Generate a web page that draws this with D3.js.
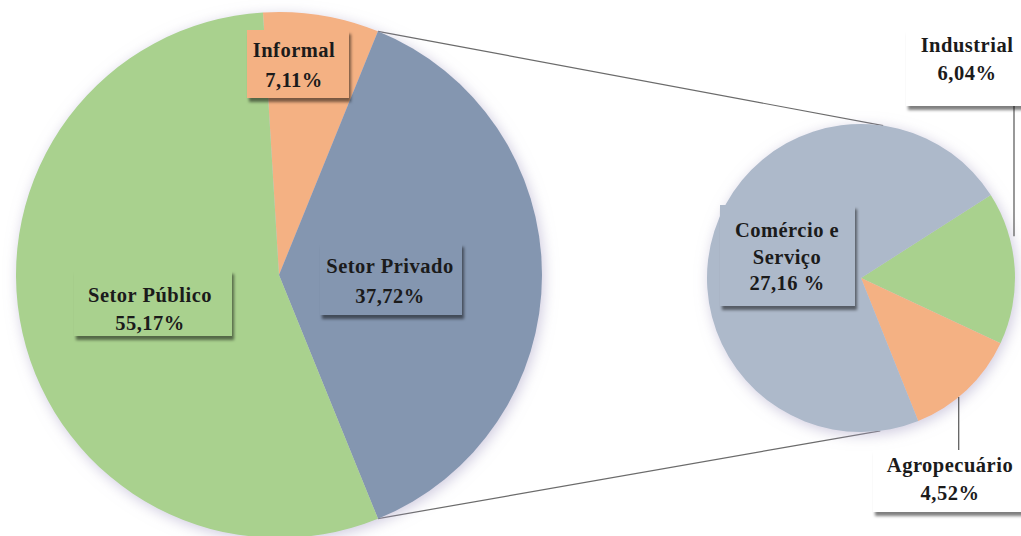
<!DOCTYPE html>
<html>
<head>
<meta charset="utf-8">
<script src="https://cdn.jsdelivr.net/npm/d3@7"></script>
<style>
  body { margin: 0; background: white; }
  svg { display: block; }
  .lbl { font-family: "Liberation Serif", "Times New Roman", "DejaVu Serif", serif; font-weight: bold; font-size: 20.5px; letter-spacing: 0.5px; }
</style>
</head>
<body>
<div id="chart-area"></div>
<script>
// main pie data
const mainLabels = ["Informal", "Setor Privado", "Setor Público"]
const mainValues = [7.11, 37.72, 55.17]
const mainText = ["7,11%", "37,72%", "55,17%"]

// secondary pie (split of Setor Privado)
const subLabels = ["Industrial", "Agropecuário", "Comércio e Serviço"]
const subValues = [6.04, 4.52, 27.16]
const subText = ["6,04%", "4,52%", "27,16 %"]

const width = 1021, height = 536
const deg = Math.PI / 180

const svg = d3.select("#chart-area").append("svg")
    .attr("width", width)
    .attr("height", height)

const defs = svg.append("defs")

// soft glow behind the pies
const glow = defs.append("filter").attr("id", "glow")
    .attr("x", "-20%").attr("y", "-20%").attr("width", "140%").attr("height", "140%")
glow.append("feGaussianBlur").attr("in", "SourceAlpha").attr("stdDeviation", 7).attr("result", "b")
glow.append("feOffset").attr("in", "b").attr("dx", 2).attr("dy", 3).attr("result", "o")
glow.append("feFlood").attr("flood-color", "#a79fc4").attr("flood-opacity", 0.55)
glow.append("feComposite").attr("in2", "o").attr("operator", "in").attr("result", "s")
const gm = glow.append("feMerge")
gm.append("feMergeNode").attr("in", "s")
gm.append("feMergeNode").attr("in", "SourceGraphic")

// label box shadow
const boxShadow = defs.append("filter").attr("id", "boxShadow")
    .attr("x", "-20%").attr("y", "-20%").attr("width", "150%").attr("height", "160%")
boxShadow.append("feDropShadow").attr("dx", 2).attr("dy", 4)
    .attr("stdDeviation", 1.8).attr("flood-color", "#000").attr("flood-opacity", 0.5)

const mainColor = d3.scaleOrdinal().domain(mainLabels).range(["#f4b183", "#8496b0", "#a9d18e"])
const subColor = d3.scaleOrdinal().domain(subLabels).range(["#a9d18e", "#f4b183", "#adb9ca"])

const main = {cx: 279, cy: 275, r: 263}
const sub = {cx: 861, cy: 278, r: 154}

const mainPie = d3.pie().sort(null).value(d => d)
    .startAngle(-3.5 * deg).endAngle(356.5 * deg)
const subPie = d3.pie().sort(null).value(d => d)
    .startAngle(57.4 * deg).endAngle(417.4 * deg)

const mainArcs = mainPie(mainValues)
const subArcs = subPie(subValues)

const polar = (c, r, a) => [c.cx + r * Math.sin(a), c.cy - r * Math.cos(a)]

// connector lines between the pies
const priv = mainArcs[1]
const linesG = svg.append("g")
const conn = [
    [polar(main, main.r, priv.startAngle), polar(sub, sub.r, 8.3 * deg)],
    [polar(main, main.r, priv.endAngle), polar(sub, sub.r, 172.8 * deg)]
]
linesG.selectAll("line").data(conn).join("line")
    .attr("x1", d => d[0][0]).attr("y1", d => d[0][1])
    .attr("x2", d => d[1][0]).attr("y2", d => d[1][1])
    .attr("stroke", "#6b6b6b")
    .attr("stroke-width", 1.2)

const mainArc = d3.arc().innerRadius(0).outerRadius(main.r)
const subArc = d3.arc().innerRadius(0).outerRadius(sub.r)

svg.append("g")
    .attr("transform", `translate(${main.cx}, ${main.cy})`)
    .attr("filter", "url(#glow)")
    .selectAll("path").data(mainArcs).join("path")
    .attr("d", mainArc)
    .attr("fill", (d, i) => mainColor(mainLabels[i]))

svg.append("g")
    .attr("transform", `translate(${sub.cx}, ${sub.cy})`)
    .attr("filter", "url(#glow)")
    .selectAll("path").data(subArcs).join("path")
    .attr("d", subArc)
    .attr("fill", (d, i) => subColor(subLabels[i]))

// leader lines for the small slices
const leaders = svg.append("g")
    .attr("fill", "none")
    .attr("stroke", "#555")
    .attr("stroke-width", 1.2)
const indEdge = polar(sub, sub.r, (subArcs[0].startAngle + subArcs[0].endAngle) / 2 - 12 * deg)
leaders.append("path")
    .attr("d", `M1006,96 H1014 V${indEdge[1]}`)
const agEdge = polar(sub, sub.r, (subArcs[1].startAngle + subArcs[1].endAngle) / 2 + 4 * deg)
leaders.append("path")
    .attr("d", `M${agEdge[0]},${agEdge[1]} V452`)

// label boxes
const labelBoxes = [
    {x: 247, y: 30, w: 102, h: 68, fill: mainColor("Informal"), lines: [mainLabels[0], mainText[0]], tx: 294, ty: [57, 87]},
    {x: 320, y: 243, w: 142, h: 72, fill: mainColor("Setor Privado"), lines: [mainLabels[1], mainText[1]], tx: 390, ty: [273, 303]},
    {x: 74, y: 270, w: 158, h: 66, fill: mainColor("Setor Público"), lines: [mainLabels[2], mainText[2]], tx: 150, ty: [302, 330]},
    {x: 720, y: 205, w: 135, h: 101, fill: subColor("Comércio e Serviço"), lines: ["Comércio e", "Serviço", subText[2]], tx: 787, ty: [237, 264, 290]},
    {x: 906, y: 30, w: 120, h: 76, fill: "#fff", lines: [subLabels[0], subText[0]], tx: 967, ty: [52, 80]},
    {x: 873, y: 450, w: 150, h: 62, fill: "#fff", lines: [subLabels[1], subText[1]], tx: 950, ty: [472, 500]}
]

const lg = svg.append("g")
lg.selectAll("rect").data(labelBoxes).join("rect")
    .attr("x", d => d.x).attr("y", d => d.y)
    .attr("width", d => d.w).attr("height", d => d.h)
    .attr("fill", d => d.fill)
    .attr("filter", "url(#boxShadow)")

labelBoxes.forEach(b => {
    lg.append("g").selectAll("text").data(b.lines).join("text")
        .attr("class", "lbl")
        .attr("x", b.tx)
        .attr("y", (d, i) => b.ty[i])
        .attr("text-anchor", "middle")
        .attr("fill", "#1b1b1b")
        .text(d => d)
})
</script>
</body>
</html>
